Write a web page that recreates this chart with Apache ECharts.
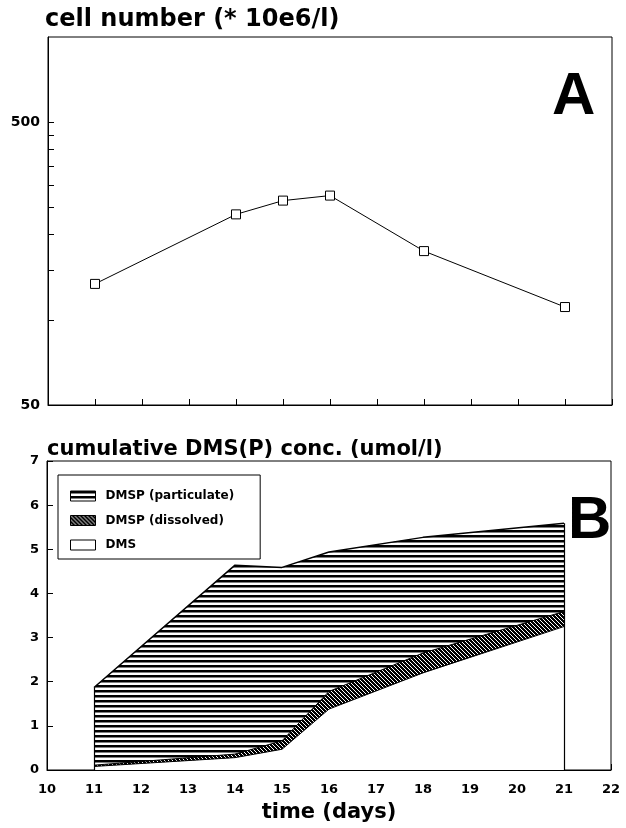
<!DOCTYPE html>
<html>
<head>
<meta charset="utf-8">
<title>cell number and cumulative DMS(P)</title>
<script src="https://cdn.jsdelivr.net/npm/echarts@6/dist/echarts.min.js"></script>
<style>
  html, body { margin: 0; padding: 0; background: #fff; }
  #chart { width: 626px; height: 828px; }
</style>
</head>
<body>
<div id="chart"></div>
<script>
// sampling days, same for both panels
var days = [11, 14, 15, 16, 18, 21];
// panel A: cell number (* 10e6/l), log axis
var cellNumber = [134, 236, 264, 275, 175, 111];
var cellLabels = [50, 500];
var cellTicks = [100, 150, 200, 250, 300, 350, 400, 450, 500];
// panel B: cumulative conc. (umol/l) = upper edge of each band
var dms = [0.08, 0.28, 0.47, 1.38, 2.2, 3.25];
var dmspDissolved = [0.11, 0.36, 0.66, 1.78, 2.65, 3.59];
var dmspParticulate = [1.87, 4.64, 4.59, 4.94, 5.27, 5.59];
var names = ['DMSP (particulate)', 'DMSP (dissolved)', 'DMS'];

function pairs(xs, ys) {
  return xs.map(function (x, i) { return [x, ys[i]]; });
}

// fill patterns (horizontal stripes / dark diagonal hatch)
function stripes() {
  var c = document.createElement('canvas');
  c.width = 8; c.height = 5;
  var g = c.getContext('2d');
  g.fillStyle = '#fff'; g.fillRect(0, 0, 8, 5);
  g.fillStyle = '#000'; g.fillRect(0, 0, 8, 2.5);
  return { image: c, repeat: 'repeat' };
}
function hatch() {
  var c = document.createElement('canvas');
  c.width = 4; c.height = 4;
  var g = c.getContext('2d');
  g.fillStyle = '#000'; g.fillRect(0, 0, 4, 4);
  g.fillStyle = '#fff';
  for (var i = 0; i < 4; i++) g.fillRect(i, i, 1, 1);
  return { image: c, repeat: 'repeat' };
}

var font = 'DejaVu Sans';
var black = '#000';
var last = days.length - 1;

var chart = echarts.init(document.getElementById('chart'));
var option = {
  animation: false,
  backgroundColor: '#fff',
  textStyle: { fontFamily: font, color: black },
  title: [
    { text: 'cell number (* 10e6/l)', left: 40, top: 3,
      textStyle: { fontFamily: font, fontSize: 24, fontWeight: 'bold', color: black } },
    { text: 'A', left: 547, top: 62,
      textStyle: { fontFamily: 'Liberation Sans', fontSize: 60, fontWeight: 'bold', color: black } },
    { text: 'cumulative DMS(P) conc. (umol/l)', left: 42, top: 434,
      textStyle: { fontFamily: font, fontSize: 21, fontWeight: 'bold', color: black } },
    { text: 'B', left: 563, top: 486,
      textStyle: { fontFamily: 'Liberation Sans', fontSize: 60, fontWeight: 'bold', color: black } }
  ],
  grid: [
    { left: 48, right: 14, top: 37, height: 368, show: true, borderColor: black, borderWidth: 1 },
    { left: 47, right: 15, top: 461, height: 309, show: true, borderColor: black, borderWidth: 1 }
  ],
  legend: {
    orient: 'vertical', left: 58, top: 475,
    icon: 'rect', itemWidth: 25, itemHeight: 10, itemGap: 12.5,
    padding: [15, 26, 8, 12],
    backgroundColor: '#fff', borderColor: black, borderWidth: 1,
    selectedMode: false,
    textStyle: { fontFamily: font, fontSize: 12, fontWeight: 'bold', color: black, padding: [0, 0, 0, 5] },
    data: [
      { name: names[0], itemStyle: { color: stripes(), borderColor: black, borderWidth: 1 } },
      { name: names[1], itemStyle: { color: hatch(), borderColor: black, borderWidth: 1 } },
      { name: names[2], itemStyle: { color: '#fff', borderColor: black, borderWidth: 1 } }
    ]
  },
  xAxis: [
    { gridIndex: 0, type: 'value', min: 10, max: 22, interval: 1,
      axisLine: { lineStyle: { color: black, width: 1 } },
      axisTick: { inside: true, length: 6, lineStyle: { color: black } },
      axisLabel: { show: false }, splitLine: { show: false } },
    { gridIndex: 1, type: 'value', min: 10, max: 22, interval: 1,
      axisLine: { lineStyle: { color: black, width: 1 } },
      axisTick: { inside: true, length: 6, lineStyle: { color: black } },
      axisLabel: { fontFamily: font, fontSize: 13, fontWeight: 'bold', color: black, margin: 13 },
      splitLine: { show: false },
      name: 'time (days)', nameLocation: 'middle', nameGap: 32,
      nameTextStyle: { fontFamily: font, fontSize: 21, fontWeight: 'bold', color: black } }
  ],
  yAxis: [
    { gridIndex: 0, type: 'log', logBase: 10, min: 50, max: 1000,
      axisLine: { show: true, lineStyle: { color: black, width: 1 } },
      axisTick: { inside: true, length: 6, customValues: cellTicks, lineStyle: { color: black } },
      axisLabel: { customValues: cellLabels, fontFamily: font, fontSize: 14, fontWeight: 'bold', color: black, margin: 8 },
      splitLine: { show: false } },
    { gridIndex: 1, type: 'value', min: 0, max: 7, interval: 1,
      axisLine: { show: true, lineStyle: { color: black, width: 1 } },
      axisTick: { inside: true, length: 6, lineStyle: { color: black } },
      axisLabel: { fontFamily: font, fontSize: 13, fontWeight: 'bold', color: black, margin: 8 },
      splitLine: { show: false } }
  ],
  series: [
    { name: 'cell number', type: 'line', xAxisIndex: 0, yAxisIndex: 0,
      data: pairs(days, cellNumber),
      symbol: 'rect', symbolSize: 9,
      itemStyle: { color: '#fff', borderColor: black, borderWidth: 1 },
      lineStyle: { color: black, width: 1 } },
    { name: names[0], type: 'line', xAxisIndex: 1, yAxisIndex: 1,
      data: pairs(days, dmspParticulate), symbol: 'none',
      itemStyle: { color: black },
      lineStyle: { color: black, width: 1.5 },
      areaStyle: { color: stripes(), opacity: 1 },
      markLine: {
        silent: true, symbol: ['none', 'none'], label: { show: false },
        lineStyle: { color: black, width: 1.2, type: 'solid' },
        data: [
          [{ coord: [days[0], 0] }, { coord: [days[0], dmspParticulate[0]] }],
          [{ coord: [days[last], 0] }, { coord: [days[last], dmspParticulate[last]] }]
        ]
      } },
    { name: names[1], type: 'line', xAxisIndex: 1, yAxisIndex: 1,
      data: pairs(days, dmspDissolved), symbol: 'none',
      itemStyle: { color: black },
      lineStyle: { color: black, width: 1 },
      areaStyle: { color: hatch(), opacity: 1 } },
    { name: names[2], type: 'line', xAxisIndex: 1, yAxisIndex: 1,
      data: pairs(days, dms), symbol: 'none',
      itemStyle: { color: black },
      lineStyle: { color: black, width: 1 },
      areaStyle: { color: '#fff', opacity: 1 } }
  ]
};
chart.setOption(option);
</script>
</body>
</html>
